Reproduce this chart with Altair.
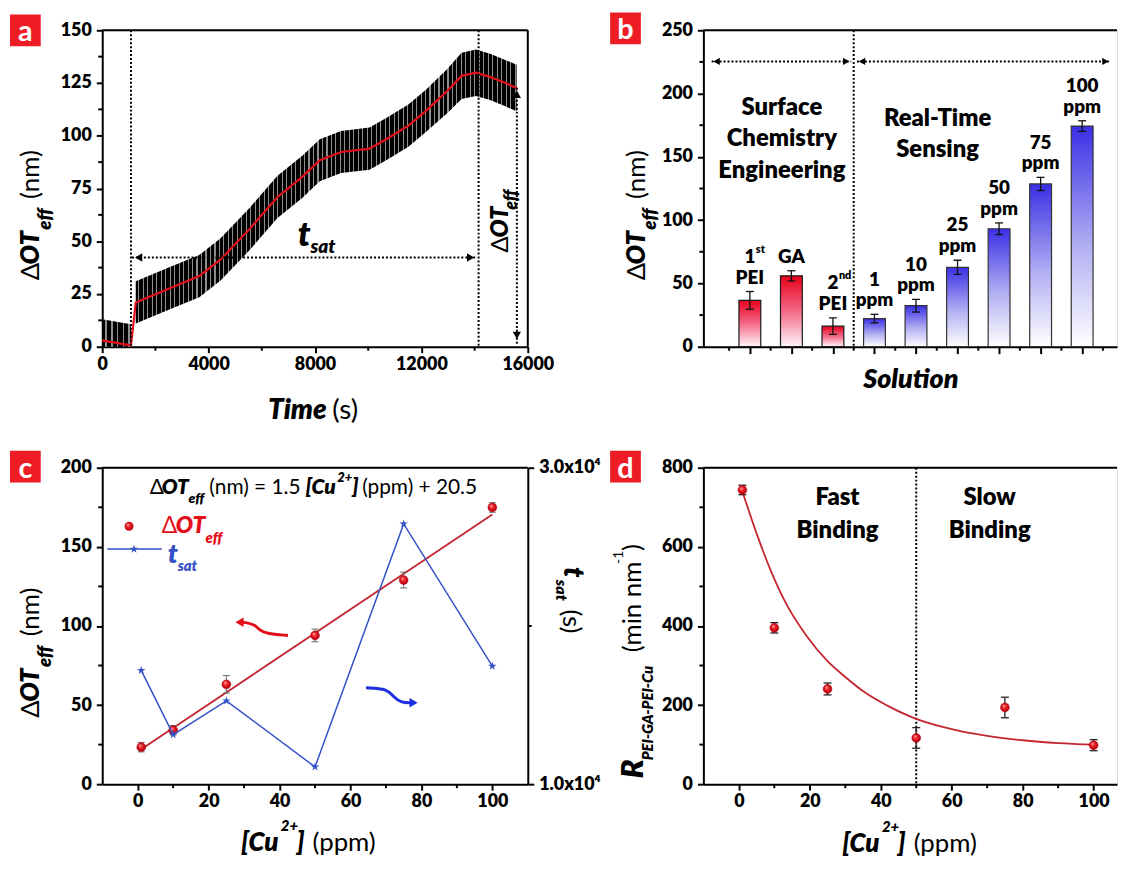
import altair as alt
import pandas as pd

FONT = "Lato, 'DejaVu Sans', sans-serif"
BOLD = 800
RED = "#e3101b"
DARKRED = "#c4262e"
BLUE = "#3552c8"
BOXRED = "#ee1c24"
STAR = "M0,-1L0.225,-0.309L0.951,-0.309L0.363,0.118L0.588,0.809L0,0.382L-0.588,0.809L-0.363,0.118L-0.951,-0.309L-0.225,-0.309Z"

# ---------------- (a) real-time trace ----------------
a_time = [0, 1080, 1260, 2590, 3650, 4450, 5520, 6590, 7520, 8180, 8980,
          10050, 10710, 11510, 12180, 12980, 13510, 14050, 14580, 15110, 15580]
a_dot = [3.0, 0.6, 21.0, 28.0, 33.5, 41.4, 55.5, 71.0, 80.5, 88.4, 92.3,
         93.9, 98.6, 104.8, 111.9, 121.3, 128.4, 129.9, 127.9, 125.2, 122.6]
a_err = [10, 10, 10, 10, 10, 10, 10, 10, 10, 10, 10,
         10, 10, 10, 10, 10.5, 11, 11, 11, 11, 11]
a_seg = [0, 0, 1, 1, 1, 1, 1, 1, 1, 1, 1, 1, 1, 1, 1, 1, 1, 1, 1, 1, 1]
a_xticks = [0, 4000, 8000, 12000, 16000]
a_xminor = [2000, 6000, 10000, 14000]
a_yticks = [0, 25, 50, 75, 100, 125, 150]
a_yminor = [12.5, 37.5, 62.5, 87.5, 112.5, 137.5]
a_vlines = [1080, 14150]
a_tsat_span = [1119, 14100]
a_tsat_level = 42.3
a_dot_arrow_x = 15590
a_dot_span = [1.4, 123.6]

# ---------------- (b) bar chart ----------------
b_pos = [1, 2, 3, 4, 5, 6, 7, 8, 9]
b_line1 = ["1", "", "2", "1", "10", "25", "50", "75", "100"]
b_sup = ["st", "", "nd", "", "", "", "", "", ""]
b_line2 = ["PEI", "GA", "PEI", "ppm", "ppm", "ppm", "ppm", "ppm", "ppm"]
b_value = [36.6, 56.0, 16.2, 22.2, 32.4, 62.7, 93.2, 128.6, 174.3]
b_err = [7.0, 4.0, 6.5, 3.4, 5.0, 5.6, 4.6, 5.2, 4.2]
b_group = ["surface", "surface", "surface", "sensing", "sensing", "sensing",
           "sensing", "sensing", "sensing"]
b_yticks = [0, 50, 100, 150, 200, 250]
b_yminor = [25, 75, 125, 175, 225]
b_xminor = [0.5, 1.5, 2.5, 3.5, 4.5, 5.5, 6.5, 7.5, 8.5, 9.5]
b_divider = 3.5
b_region_text = ["Surface", "Chemistry", "Engineering", "Real-Time", "Sensing"]
b_region_x = [1.77, 1.77, 1.77, 5.52, 5.52]
b_region_y = [188.6, 164.0, 138.5, 180.0, 155.0]
b_arrow_level = 225.4
b_arrow_left = [0.08, 3.44]
b_arrow_right = [3.58, 9.68]

# ---------------- (c) calibration ----------------
c_conc = [1, 10, 25, 50, 75, 100]
c_dot = [23.4, 34.1, 63.1, 94.0, 129.0, 174.9]
c_err = [3.0, 3.0, 5.5, 4.0, 5.0, 3.0]
c_tsat = [17190, 13130, 15270, 11090, 26450, 17460]
c_fit_x = [1, 100]
c_fit_y = [22.0, 170.5]
c_xticks = [0, 20, 40, 60, 80, 100]
c_xminor = [10, 30, 50, 70, 90]
c_yticks = [0, 50, 100, 150, 200]
c_yminor = [25, 75, 125, 175]
c_rticks = [10000, 30000]
c_rlabels = ["1.0x10⁴", "3.0x10⁴"]
c_rminor = [20000]
c_red_arrow_x = [42.4, 36.0, 34.3, 33.2, 31.0, 29.5]
c_red_arrow_y = [94.0, 95.2, 97.5, 100.5, 102.0, 102.3]
c_blue_arrow_x = [64.4, 70.4, 72.3, 74.4, 77.0]
c_blue_arrow_y = [60.9, 60.5, 54.6, 51.5, 51.5]

# ---------------- (d) binding rate ----------------
d_r = [743.8, 395.3, 240.7, 116.9, 193.9, 98.6]
d_err = [12, 13, 15, 26, 26, 14]
d_fit_x = [1, 5, 9, 13, 19, 25, 30, 36, 42, 50, 60, 70, 80, 90, 100]
d_fit_y = [740, 634, 540, 462, 376, 311, 271, 229, 198, 165, 139, 122, 111, 104, 100]
d_xticks = [0, 20, 40, 60, 80, 100]
d_xminor = [10, 30, 50, 70, 90]
d_yticks = [0, 200, 400, 600, 800]
d_yminor = [100, 300, 500, 700]
d_divider = 50

ONE = pd.DataFrame({"k": [0]})


def axis(orient, values, labels=True, tick=6, label_expr=None):
    kw = dict(orient=orient, values=values, title=None, grid=False, labels=labels, format="d",
              labelFont=FONT, labelFontWeight=BOLD, labelFontSize=18, labelColor="black",
              labelPadding=5 if orient in ("left", "right") else 3,
              labelFlush=False, labelOverlap=False,
              tickSize=tick, tickWidth=2, tickColor="black",
              domainWidth=2, domainColor="black")
    if label_expr:
        kw["labelExpr"] = label_expr
    return alt.Axis(**kw)


class Panel:
    def __init__(self, W, H, xdom, ydom, xaxis, yaxis):
        self.W, self.H, self.xdom, self.ydom = W, H, xdom, ydom
        self.xaxis, self.yaxis = xaxis, yaxis

    def fx(self, px):
        return self.xdom[0] + px / self.W * (self.xdom[1] - self.xdom[0])

    def fy(self, py):
        return self.ydom[0] + (self.H - py) / self.H * (self.ydom[1] - self.ydom[0])

    def X(self, f):
        return alt.X(f"{f}:Q", scale=alt.Scale(domain=self.xdom, nice=False, zero=False), axis=self.xaxis)

    def Y(self, f):
        return alt.Y(f"{f}:Q", scale=alt.Scale(domain=self.ydom, nice=False, zero=False), axis=self.yaxis)


KIND = {"r": ("normal", "normal"), "b": (BOLD, "normal"), "bi": (BOLD, "italic")}


def rich(P, segs, align="left"):
    """segs: (text, px, py, size, angle, color, kind) in panel pixel coords."""
    layers = []
    for kind in ["r", "b", "bi"]:
        rows = [s for s in segs if s[6] == kind]
        if not rows:
            continue
        df = pd.DataFrame({"t": [r[0] for r in rows],
                           "x": [P.fx(r[1]) for r in rows],
                           "y": [P.fy(r[2]) for r in rows],
                           "s": [r[3] for r in rows],
                           "a": [r[4] for r in rows],
                           "c": [r[5] for r in rows]})
        w, st = KIND[kind]
        layers.append(alt.Chart(df).mark_text(font=FONT, fontWeight=w, fontStyle=st,
                                              align=align, baseline="middle").encode(
            x=P.X("x"), y=P.Y("y"), text="t:N",
            size=alt.Size("s:Q", scale=None), angle=alt.Angle("a:Q", scale=None),
            color=alt.Color("c:N", scale=None)))
    return layers


def minor_x(P, vals, length=4):
    return alt.Chart(pd.DataFrame({"x": vals})).mark_rule(color="black", strokeWidth=2).encode(
        x=P.X("x"), y=alt.value(P.H), y2=alt.value(P.H + length))


def minor_y(P, vals, length=4, right=False):
    x0 = P.W if right else 0
    x1 = P.W + length if right else -length
    return alt.Chart(pd.DataFrame({"y": vals})).mark_rule(color="black", strokeWidth=2).encode(
        y=P.Y("y"), x=alt.value(x0), x2=alt.value(x1))


def frame(P, right=True):
    out = [alt.Chart(ONE).mark_rule(color="black", strokeWidth=2).encode(
        x=alt.value(0), x2=alt.value(P.W), y=alt.value(0))]
    if right:
        out.append(alt.Chart(ONE).mark_rule(color="black", strokeWidth=2).encode(
            x=alt.value(P.W), y=alt.value(0), y2=alt.value(P.H)))
    return out


def letter(ch, x0, y0):
    return [alt.Chart(ONE).mark_rect(color=BOXRED).encode(
                x=alt.value(x0), x2=alt.value(x0 + 31), y=alt.value(y0), y2=alt.value(y0 + 32)),
            alt.Chart(ONE).mark_text(text=ch, font=FONT, fontWeight="bold", fontSize=29,
                                     color="white", align="center", baseline="alphabetic").encode(
                x=alt.value(x0 + 15.5), y=alt.value(y0 + 27))]


def heads(P, xs, ys, shapes, color="black", size=70):
    df = pd.DataFrame({"x": xs, "y": ys, "sh": shapes})
    return alt.Chart(df).mark_point(filled=True, color=color, size=size, opacity=1).encode(
        x=P.X("x"), y=P.Y("y"), shape=alt.Shape("sh:N", scale=None))


def stripes(n):
    stops = []
    for k in range(n):
        a = k / n
        stops += [(a, "#000000"), (a + 0.55 / n, "#000000"), (a + 0.55 / n, "#8e8e8e"),
                  (a + 0.8 / n, "#8e8e8e"), (a + 0.8 / n, "#000000")]
    stops.append((1.0, "#000000"))
    return alt.Gradient(gradient="linear", x1=0, x2=1, y1=0, y2=0,
                        stops=[alt.GradientStop(offset=min(o, 1.0), color=c) for o, c in stops])


SPHERE = alt.Gradient(gradient="radial", x1=0.35, y1=0.3, r1=0.0, x2=0.5, y2=0.5, r2=0.55,
                      stops=[alt.GradientStop(offset=0, color="#ffb0b0"),
                             alt.GradientStop(offset=0.45, color="#ec1c24"),
                             alt.GradientStop(offset=1, color="#a8000c")])


def dot_ytitle(x0=-72):
    return [("Δ", x0, 252, 26, 270, "black", "r"),
            ("OT", x0, 236, 26, 270, "black", "bi"),
            ("eff", x0 + 14, 201, 19, 270, "black", "bi"),
            ("(nm)", x0, 170, 26, 270, "black", "r")]


def cu_xtitle(y0):
    return [("[Cu", 140, y0, 26, 0, "black", "bi"),
            ("2+", 180, y0 - 17, 15, 0, "black", "bi"),
            ("]", 196, y0, 26, 0, "black", "bi"),
            ("(ppm)", 212, y0, 26, 0, "black", "r")]


# ======================= panel a =======================
Pa = Panel(429, 319, [0, 16000], [0, 150], axis("bottom", a_xticks), axis("left", a_yticks))
df_a = pd.DataFrame({"x": a_time, "y": a_dot,
                     "lo": [v - e for v, e in zip(a_dot, a_err)],
                     "hi": [v + e for v, e in zip(a_dot, a_err)], "seg": a_seg})
a_layers = [minor_x(Pa, a_xminor), minor_y(Pa, a_yminor)]
a_layers.append(alt.Chart(df_a[df_a.seg == 0]).mark_area(color=stripes(5), clip=True).encode(
    x=Pa.X("x"), y=Pa.Y("lo"), y2="hi"))
a_layers.append(alt.Chart(df_a[df_a.seg == 1]).mark_area(color=stripes(85), clip=True).encode(
    x=Pa.X("x"), y=Pa.Y("lo"), y2="hi"))
a_layers.append(alt.Chart(df_a).mark_line(color=RED, strokeWidth=2.2).encode(x=Pa.X("x"), y=Pa.Y("y")))
a_layers.append(alt.Chart(pd.DataFrame({"x": a_vlines})).mark_rule(
    color="black", strokeWidth=2, strokeDash=[2, 2]).encode(x=Pa.X("x")))
a_layers.append(alt.Chart(pd.DataFrame({"x": [a_tsat_span[0]], "x2": [a_tsat_span[1]], "y": [a_tsat_level]}))
                .mark_rule(color="black", strokeWidth=2, strokeDash=[2, 2]).encode(
    x=Pa.X("x"), x2="x2", y=Pa.Y("y")))
a_layers.append(alt.Chart(pd.DataFrame({"x": [a_dot_arrow_x], "y": [a_dot_span[0]], "y2": [a_dot_span[1]]}))
                .mark_rule(color="black", strokeWidth=2, strokeDash=[2, 2]).encode(
    x=Pa.X("x"), y=Pa.Y("y"), y2="y2"))
a_layers.append(heads(Pa, [a_tsat_span[0] + 250, a_tsat_span[1] - 250, a_dot_arrow_x, a_dot_arrow_x],
                      [a_tsat_level, a_tsat_level, a_dot_span[0] + 4, a_dot_span[1] - 4],
                      ["triangle-left", "triangle-right", "triangle-down", "triangle-up"]))
a_layers += frame(Pa)
a_layers += rich(Pa, dot_ytitle() + [
    ("Time", 167, 384, 28, 0, "black", "bi"),
    ("(s)", 232, 384, 28, 0, "black", "r"),
    ("t", 197, 207, 34, 0, "black", "bi"),
    ("sat", 210, 219, 19, 0, "black", "bi"),
    ("Δ", 402, 224, 24, 270, "black", "r"),
    ("OT", 402, 209, 24, 270, "black", "bi"),
    ("eff", 413, 181, 18, 270, "black", "bi"),
])
a_layers += letter("a", -93, -16)
chart_a = alt.layer(*a_layers).properties(width=Pa.W, height=Pa.H)

# ======================= panel b =======================
Pb = Panel(417, 319, [0, 9.72], [0, 250], axis("bottom", b_pos, labels=False, tick=7), axis("left", b_yticks))
df_b = pd.DataFrame({"x": b_pos, "v": b_value, "e": b_err, "g": b_group,
                     "lo": [v - e for v, e in zip(b_value, b_err)],
                     "hi": [v + e for v, e in zip(b_value, b_err)],
                     "zero": [0] * len(b_pos), "l1": b_line1, "sup": b_sup, "l2": b_line2})
grad_red = alt.Gradient(gradient="linear", x1=0, x2=0, y1=0, y2=1,
                        stops=[alt.GradientStop(offset=0, color="#e8001a"),
                               alt.GradientStop(offset=0.5, color="#f36a88"),
                               alt.GradientStop(offset=1, color="#fff6fa")])
grad_blue = alt.Gradient(gradient="linear", x1=0, x2=0, y1=0, y2=1,
                         stops=[alt.GradientStop(offset=0, color="#3a2fe6"),
                                alt.GradientStop(offset=0.55, color="#b3b0f2"),
                                alt.GradientStop(offset=1, color="#ffffff")])
b_layers = [minor_x(Pb, b_xminor), minor_y(Pb, b_yminor)]
b_layers.append(alt.Chart(df_b[df_b.g == "surface"]).mark_bar(
    orient="vertical", size=22, color=grad_red, stroke="#1a1a1a", strokeWidth=1.2).encode(
    x=Pb.X("x"), y=Pb.Y("v"), y2="zero"))
b_layers.append(alt.Chart(df_b[df_b.g == "sensing"]).mark_bar(
    orient="vertical", size=22, color=grad_blue, stroke="#333333", strokeWidth=1.2).encode(
    x=Pb.X("x"), y=Pb.Y("v"), y2="zero"))
b_layers.append(alt.Chart(df_b).mark_rule(color="#111111", strokeWidth=1.3).encode(
    x=Pb.X("x"), y=Pb.Y("lo"), y2="hi"))
for f in ["lo", "hi"]:
    b_layers.append(alt.Chart(df_b).mark_tick(orient="horizontal", size=8, thickness=1.3,
                                             color="#111111", opacity=1).encode(x=Pb.X("x"), y=Pb.Y(f)))
b_layers.append(alt.Chart(df_b).mark_text(font=FONT, fontWeight=BOLD, fontSize=19, dy=-14,
                                          baseline="middle").encode(x=Pb.X("x"), y=Pb.Y("hi"), text="l2:N"))
b_layers.append(alt.Chart(df_b).mark_text(font=FONT, fontWeight=BOLD, fontSize=19, dy=-35,
                                          baseline="middle").encode(x=Pb.X("x"), y=Pb.Y("hi"), text="l1:N"))
b_layers.append(alt.Chart(df_b).mark_text(font=FONT, fontWeight=BOLD, fontSize=11, dy=-42, dx=6,
                                          align="left", baseline="middle").encode(
    x=Pb.X("x"), y=Pb.Y("hi"), text="sup:N"))
b_layers.append(alt.Chart(pd.DataFrame({"x": [b_divider]})).mark_rule(
    color="black", strokeWidth=2, strokeDash=[2, 2]).encode(x=Pb.X("x")))
b_layers.append(alt.Chart(pd.DataFrame({"x": [b_arrow_left[0], b_arrow_right[0]],
                                        "x2": [b_arrow_left[1], b_arrow_right[1]],
                                        "y": [b_arrow_level, b_arrow_level]}))
                .mark_rule(color="black", strokeWidth=2, strokeDash=[2, 2]).encode(
    x=Pb.X("x"), x2="x2", y=Pb.Y("y")))
b_layers.append(heads(Pb, [b_arrow_left[0] + 0.12, b_arrow_left[1] - 0.12,
                           b_arrow_right[0] + 0.12, b_arrow_right[1] - 0.12],
                      [b_arrow_level] * 4,
                      ["triangle-left", "triangle-right", "triangle-left", "triangle-right"], size=55))
b_layers.append(alt.Chart(pd.DataFrame({"t": b_region_text, "x": b_region_x, "y": b_region_y}))
                .mark_text(font=FONT, fontWeight=BOLD, fontSize=24, baseline="middle").encode(
    x=Pb.X("x"), y=Pb.Y("y"), text="t:N"))
b_layers += frame(Pb, right=False)
b_layers += rich(Pb, dot_ytitle(-74) + [("Solution", 160, 353, 27, 0, "black", "bi")])
b_layers += letter("b", -94, -18)
chart_b = alt.layer(*b_layers).properties(width=Pb.W, height=Pb.H)

# ======================= panel c =======================
Pc = Panel(429, 319, [-10, 110], [0, 200], axis("bottom", c_xticks), axis("left", c_yticks))
Pc_r = Panel(429, 319, [-10, 110], [10000, 30000], axis("bottom", c_xticks),
             axis("right", c_rticks, label_expr="datum.value == %d ? '%s' : '%s'" % (
                 c_rticks[0], c_rlabels[0], c_rlabels[1])))
df_c = pd.DataFrame({"x": c_conc, "y": c_dot,
                     "lo": [v - e for v, e in zip(c_dot, c_err)],
                     "hi": [v + e for v, e in zip(c_dot, c_err)], "t": c_tsat})
c_left = [minor_x(Pc, c_xminor), minor_y(Pc, c_yminor)]
c_left.append(alt.Chart(pd.DataFrame({"x": c_fit_x, "y": c_fit_y})).mark_line(
    color=DARKRED, strokeWidth=1.8).encode(x=Pc.X("x"), y=Pc.Y("y")))
c_left.append(alt.Chart(df_c).mark_rule(color="#666666", strokeWidth=1).encode(
    x=Pc.X("x"), y=Pc.Y("lo"), y2="hi"))
for f in ["lo", "hi"]:
    c_left.append(alt.Chart(df_c).mark_tick(orient="horizontal", size=7, thickness=1,
                                           color="#666666", opacity=1).encode(x=Pc.X("x"), y=Pc.Y(f)))
c_left.append(alt.Chart(df_c).mark_point(filled=True, fill=SPHERE, size=80, opacity=1,
                                         stroke="#b00010", strokeWidth=0.5).encode(x=Pc.X("x"), y=Pc.Y("y")))
c_left.append(alt.Chart(pd.DataFrame({"x": c_red_arrow_x, "y": c_red_arrow_y, "o": list(range(len(c_red_arrow_x)))}))
              .mark_line(color=RED, strokeWidth=3, interpolate="basis").encode(
    x=Pc.X("x"), y=Pc.Y("y"), order="o:Q"))
c_left.append(alt.Chart(pd.DataFrame({"x": c_blue_arrow_x, "y": c_blue_arrow_y, "o": list(range(len(c_blue_arrow_x)))}))
              .mark_line(color="#1b2fe0", strokeWidth=3, interpolate="basis").encode(
    x=Pc.X("x"), y=Pc.Y("y"), order="o:Q"))
c_left.append(heads(Pc, [c_red_arrow_x[-1] - 0.8], [c_red_arrow_y[-1]], ["triangle-left"], color=RED, size=90))
c_left.append(heads(Pc, [c_blue_arrow_x[-1] + 0.8], [c_blue_arrow_y[-1]], ["triangle-right"], color="#1b2fe0", size=90))
# legend symbols
c_left.append(alt.Chart(ONE).mark_point(filled=True, fill=SPHERE, size=80, opacity=1).encode(
    x=alt.value(27), y=alt.value(59)))
c_left.append(alt.Chart(ONE).mark_rule(color=BLUE, strokeWidth=1.5).encode(
    x=alt.value(5), x2=alt.value(60), y=alt.value(82)))
c_left.append(alt.Chart(ONE).mark_point(shape=STAR, filled=True, size=80, color=BLUE, opacity=1).encode(
    x=alt.value(32), y=alt.value(82)))
c_left.append(alt.Chart(ONE).mark_rule(color="black", strokeWidth=2).encode(
    x=alt.value(0), x2=alt.value(Pc.W), y=alt.value(0)))
c_left += rich(Pc, dot_ytitle(-72) + cu_xtitle(378) + [
    ("Δ", 48, 20, 21, 0, "black", "r"),
    ("OT", 60, 20, 21, 0, "black", "bi"),
    ("eff", 87, 32, 14, 0, "black", "bi"),
    ("(nm) = 1.5", 108, 20, 21, 0, "black", "r"),
    ("[Cu", 205, 20, 21, 0, "black", "bi"),
    ("2+", 237, 10, 13, 0, "black", "bi"),
    ("]", 252, 20, 21, 0, "black", "bi"),
    ("(ppm) + 20.5", 262, 20, 21, 0, "black", "r"),
    ("Δ", 60, 59, 23, 0, RED, "r"),
    ("OT", 74, 59, 23, 0, RED, "bi"),
    ("eff", 104, 71, 15, 0, RED, "bi"),
    ("t", 66, 88, 27, 0, BLUE, "bi"),
    ("sat", 76, 99, 15, 0, BLUE, "bi"),
])
c_left += letter("c", -93, -17)
c_right = [
    alt.Chart(df_c).mark_line(color=BLUE, strokeWidth=1.5).encode(x=Pc_r.X("x"), y=Pc_r.Y("t")),
    alt.Chart(df_c).mark_point(shape=STAR, filled=True, size=80, color=BLUE, opacity=1).encode(
        x=Pc_r.X("x"), y=Pc_r.Y("t")),
    minor_y(Pc_r, c_rminor, right=True),
]
c_right += rich(Pc_r, [("t", 474, 100, 28, 90, "black", "bi"),
                       ("sat", 462, 113, 16, 90, "black", "bi"),
                       ("(s)", 472, 143, 26, 90, "black", "r")])
chart_c = alt.layer(alt.layer(*c_left), alt.layer(*c_right)).resolve_scale(y="independent").properties(
    width=Pc.W, height=Pc.H)

# ======================= panel d =======================
Pd = Panel(417, 319, [-10, 106.6], [0, 800], axis("bottom", d_xticks), axis("left", d_yticks))
df_d = pd.DataFrame({"x": c_conc, "y": d_r,
                     "lo": [v - e for v, e in zip(d_r, d_err)],
                     "hi": [v + e for v, e in zip(d_r, d_err)]})
d_layers = [minor_x(Pd, d_xminor), minor_y(Pd, d_yminor)]
d_layers.append(alt.Chart(pd.DataFrame({"x": [d_divider]})).mark_rule(
    color="black", strokeWidth=2, strokeDash=[2, 2]).encode(x=Pd.X("x")))
d_layers.append(alt.Chart(pd.DataFrame({"x": d_fit_x, "y": d_fit_y})).mark_line(
    color=DARKRED, strokeWidth=1.8, interpolate="monotone").encode(x=Pd.X("x"), y=Pd.Y("y")))
d_layers.append(alt.Chart(df_d).mark_rule(color="#222222", strokeWidth=1.3).encode(
    x=Pd.X("x"), y=Pd.Y("lo"), y2="hi"))
for f in ["lo", "hi"]:
    d_layers.append(alt.Chart(df_d).mark_tick(orient="horizontal", size=8, thickness=1.3,
                                             color="#222222", opacity=1).encode(x=Pd.X("x"), y=Pd.Y(f)))
d_layers.append(alt.Chart(df_d).mark_point(filled=True, fill=SPHERE, size=80, opacity=1,
                                           stroke="#b00010", strokeWidth=0.5).encode(x=Pd.X("x"), y=Pd.Y("y")))
d_layers += frame(Pd, right=False)
d_layers += rich(Pd, cu_xtitle(379) + [
    ("R", -70, 313, 31, 270, "black", "bi"),
    ("PEI-GA-PEI-Cu", -56, 295, 15, 270, "black", "bi"),
    ("(min nm", -71, 186, 26, 270, "black", "r"),
    ("-1", -85, 97, 14, 270, "black", "r"),
    (")", -71, 84, 26, 270, "black", "r"),
])
d_layers.append(alt.Chart(pd.DataFrame({"t": ["Fast", "Binding", "Slow", "Binding"],
                                        "x": [27.8, 27.8, 70.7, 70.7],
                                        "y": [723, 640, 723, 640]}))
                .mark_text(font=FONT, fontWeight=BOLD, fontSize=24, baseline="middle").encode(
    x=Pd.X("x"), y=Pd.Y("y"), text="t:N"))
d_layers += letter("d", -94, -17)
chart_d = alt.layer(*d_layers).properties(width=Pd.W, height=Pd.H)

chart = alt.concat(chart_a, chart_b, chart_c, chart_d, columns=2,
                   spacing={"row": 122, "column": 177}, bounds="flush").properties(
    padding={"left": 1, "top": 0, "right": 0, "bottom": 0}
).configure_view(stroke=None).configure(background="white", font=FONT)

chart.save("out.html", embed_options={"renderer": "svg", "actions": False})
